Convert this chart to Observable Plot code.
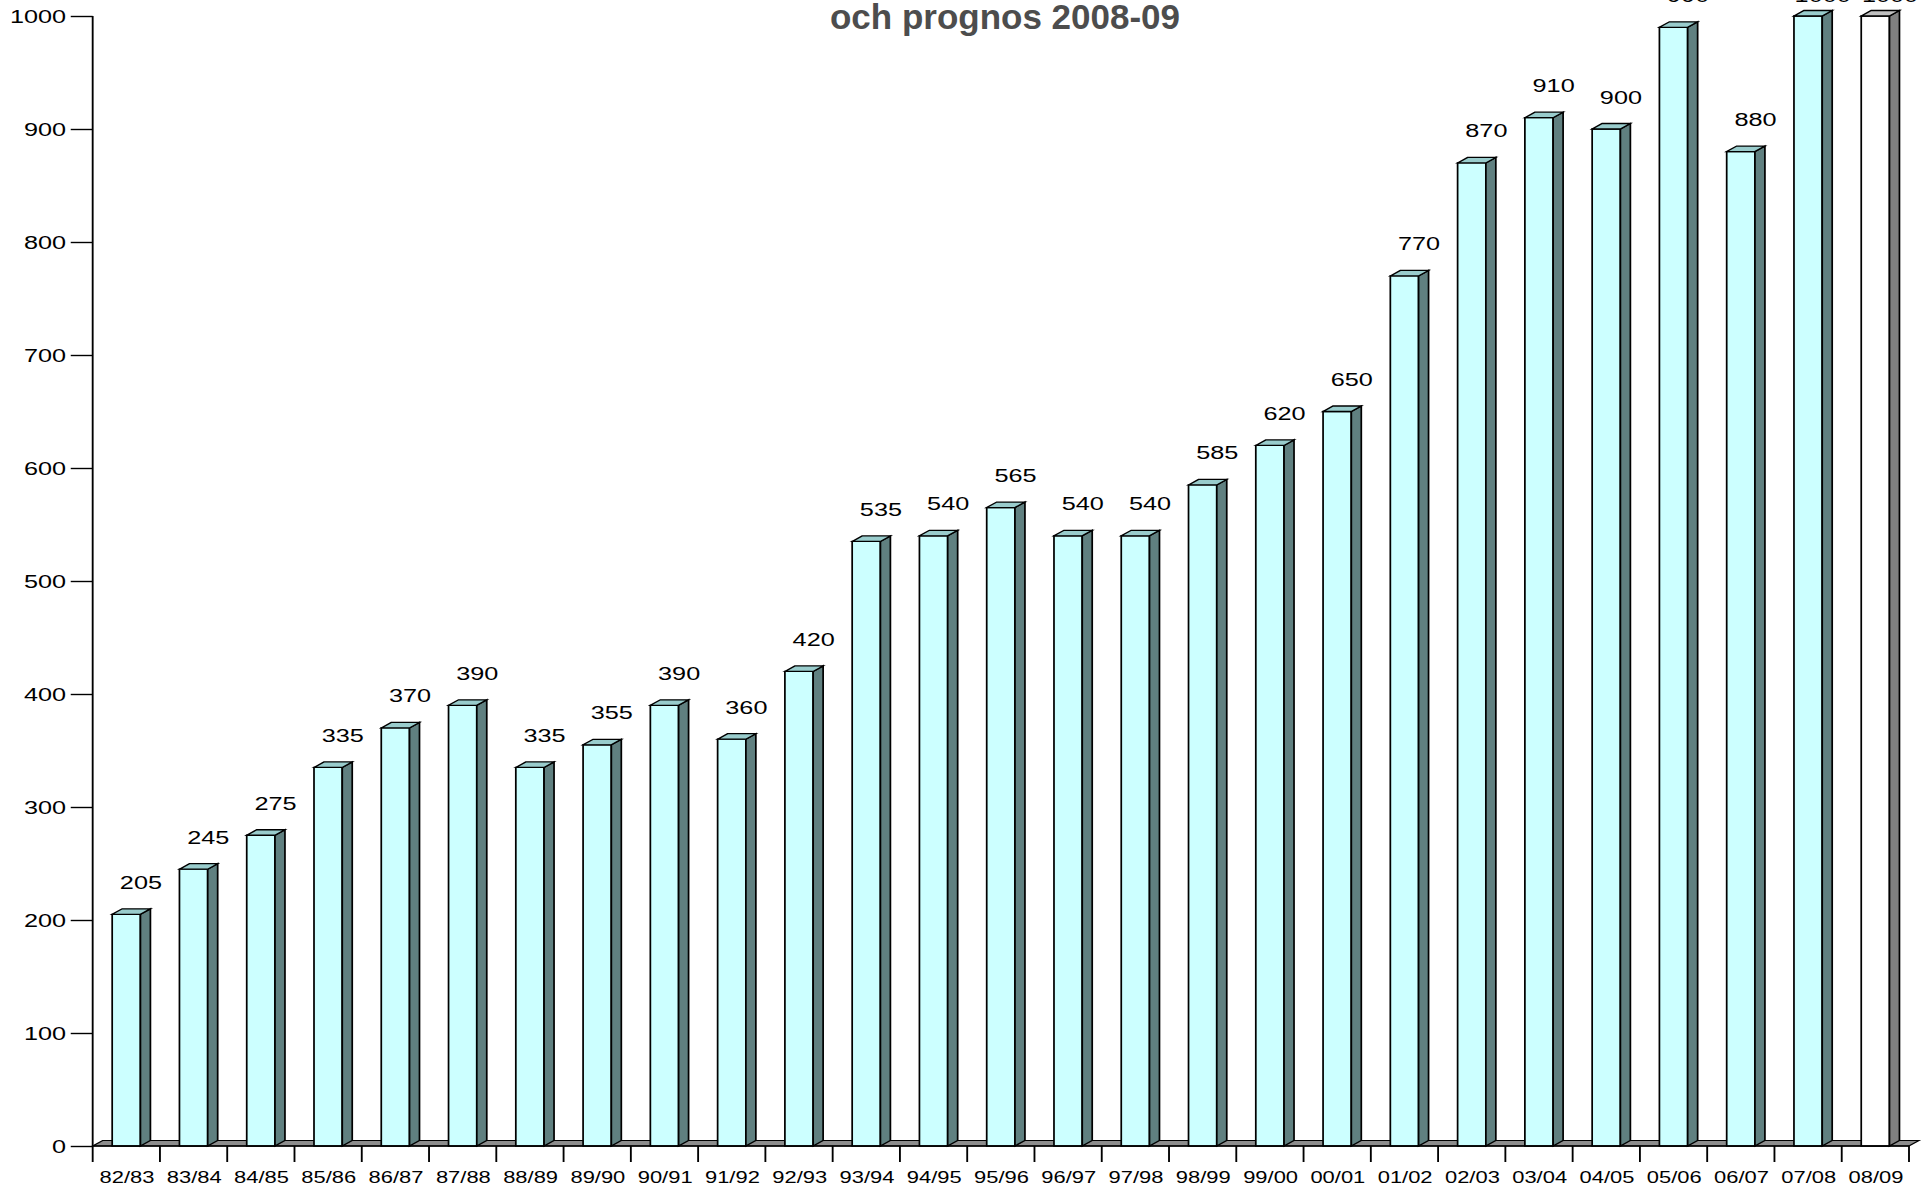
<!DOCTYPE html>
<html><head><meta charset="utf-8">
<script src="https://cdn.jsdelivr.net/npm/d3@7"></script>
<script src="https://cdn.jsdelivr.net/npm/@observablehq/plot@0.6"></script>
<style>
html,body{margin:0;padding:0;background:#fff;overflow:hidden;}
#wrap{position:relative;width:1932px;height:1188px;overflow:hidden;}
#title{position:absolute;left:0;top:-1.5px;width:2010px;text-align:center;font:bold 35px "Liberation Sans",Arial,sans-serif;line-height:35px;color:#4d4d4d;white-space:nowrap;}
</style></head><body>
<div id="wrap"><div id="chart"></div><div id="title">och prognos 2008-09</div></div>
<script>
// ---- data ----
const seasons = ["82/83","83/84","84/85","85/86","86/87","87/88","88/89","89/90","90/91","91/92","92/93","93/94","94/95","95/96","96/97","97/98","98/99","99/00","00/01","01/02","02/03","03/04","04/05","05/06","06/07","07/08","08/09"];
const values = [205,245,275,335,370,390,335,355,390,360,420,535,540,565,540,540,585,620,650,770,870,910,900,990,880,1000,1000];
const forecastSeason = "08/09";
const yTicks = [0,100,200,300,400,500,600,700,800,900,1000];

const data = seasons.map((s, i) => ({season: s, value: values[i], forecast: s === forecastSeason}));

// ---- style ----
const W = 1453, H = 1188;
const DX = 7.5, DY = 5.5;
const colActual = {front: "#ccffff", side: "#608080", top: "#99cccc"};
const colForecast = {front: "#ffffff", side: "#808080", top: "#c0c0c0"};
const SW = 1.3;

function poly(g, pts, fill, sw = SW) {
  g.append("path")
    .attr("d", "M" + pts.map(p => p.join(",")).join("L") + "Z")
    .attr("fill", fill).attr("stroke", "#000").attr("stroke-width", sw)
    .attr("stroke-linejoin", "miter");
}

const bars3d = (index, scales) => {
  const g = d3.create("svg:g");
  const bw = scales.x.bandwidth();
  const y0 = scales.y(0);
  for (const i of index) {
    const d = data[i];
    const x0 = scales.x(d.season), x1 = x0 + bw, yt = scales.y(d.value);
    const c = d.forecast ? colForecast : colActual;
    poly(g, [[x0, y0], [x0, yt], [x1, yt], [x1, y0]], c.front);
    poly(g, [[x1, y0], [x1, yt], [x1 + DX, yt - DY], [x1 + DX, y0 - DY]], c.side);
    poly(g, [[x0, yt], [x0 + DX, yt - DY], [x1 + DX, yt - DY], [x1, yt]], c.top);
  }
  return g.node();
};

const floor = (index, scales, values, dims) => {
  const g = d3.create("svg:g");
  const L = dims.marginLeft, R = dims.width - dims.marginRight, y0 = scales.y(0);
  poly(g, [[L, y0], [L + DX, y0 - DY], [R + DX, y0 - DY], [R, y0]], "#8c8c8c", 1.1);
  return g.node();
};

const axisLines = (index, scales, values, dims) => {
  const g = d3.create("svg:g").attr("stroke", "#000").attr("stroke-width", 1.4);
  const L = dims.marginLeft, R = dims.width - dims.marginRight;
  const y0 = scales.y(0), yTop = scales.y(1000);
  const step = scales.x.step(), bw = scales.x.bandwidth(), pad = (step - bw) / 2;
  g.append("line").attr("x1", L).attr("x2", L).attr("y1", yTop).attr("y2", y0);
  g.append("line").attr("x1", L).attr("x2", R).attr("y1", y0).attr("y2", y0);
  const xs = seasons.map(s => scales.x(s) - pad);
  xs.push(scales.x(seasons[seasons.length - 1]) + bw + pad);
  for (const x of xs) g.append("line").attr("x1", x).attr("x2", x).attr("y1", y0).attr("y2", y0 + 16);
  return g.node();
};

const chart = Plot.plot({
  width: W, height: H,
  marginLeft: 69.7, marginRight: 17.3, marginTop: 16, marginBottom: 42,
  style: {fontFamily: '"Liberation Sans", Arial, sans-serif', color: "#000", background: "#fff", overflow: "hidden"},
  x: {type: "band", domain: seasons, paddingInner: 0.58, paddingOuter: 0.29, round: false, label: null},
  y: {domain: [0, 1000], label: null},
  marks: [
    Plot.ruleY([0], {render: floor}),
    Plot.barY(data, {x: "season", y: "value", render: bars3d}),
    Plot.ruleY([0], {render: axisLines}),
    Plot.axisY({ticks: yTicks, tickSize: 16.5, tickPadding: 4, fontSize: 19, tickFormat: d => String(d), strokeWidth: 1.4, label: null}),
    Plot.axisX({tickSize: 0, tickPadding: 25, fontSize: 16.5, label: null}),
    Plot.text(data, {x: "season", y: d => Math.min(d.value, 990), text: d => String(d.value), dx: 10.5, dy: -26, lineAnchor: "bottom", fontSize: 19, fill: "#000"})
  ]
});
chart.setAttribute("preserveAspectRatio", "none");
chart.style.width = "1932px";
chart.style.height = "1188px";
chart.style.maxWidth = "none";
document.getElementById("chart").appendChild(chart);
</script>
</body></html>
